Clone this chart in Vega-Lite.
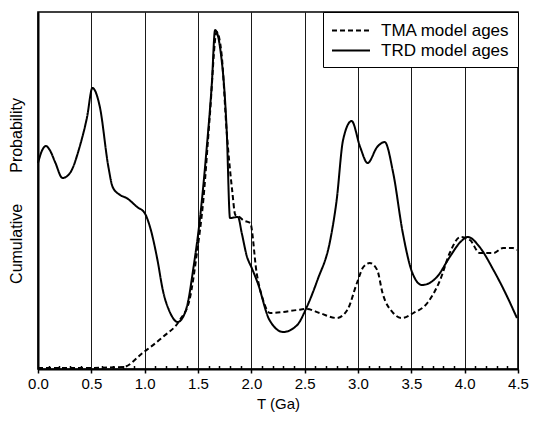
{
  "$schema": "https://vega.github.io/schema/vega-lite/v6.json",
  "width": 480,
  "height": 357,
  "autosize": {"type": "none"},
  "padding": {"left": 38, "top": 12, "right": 17, "bottom": 52},
  "background": "white",
  "config": {
    "view": {"stroke": "black", "strokeWidth": 1.6},
    "font": "Liberation Sans"
  },
  "data": {
    "values": [
      {"s": "TRD model ages", "T": 0.0, "p": 206}, {"s": "TRD model ages", "T": 0.04, "p": 219}, {"s": "TRD model ages", "T": 0.075, "p": 223}, {"s": "TRD model ages", "T": 0.11, "p": 219},
      {"s": "TRD model ages", "T": 0.16, "p": 207}, {"s": "TRD model ages", "T": 0.23, "p": 191}, {"s": "TRD model ages", "T": 0.3, "p": 196}, {"s": "TRD model ages", "T": 0.39, "p": 222},
      {"s": "TRD model ages", "T": 0.46, "p": 252}, {"s": "TRD model ages", "T": 0.51, "p": 281}, {"s": "TRD model ages", "T": 0.58, "p": 262}, {"s": "TRD model ages", "T": 0.66, "p": 202},
      {"s": "TRD model ages", "T": 0.7, "p": 182}, {"s": "TRD model ages", "T": 0.77, "p": 174}, {"s": "TRD model ages", "T": 0.83, "p": 171}, {"s": "TRD model ages", "T": 0.93, "p": 162},
      {"s": "TRD model ages", "T": 1.0, "p": 156}, {"s": "TRD model ages", "T": 1.05, "p": 142}, {"s": "TRD model ages", "T": 1.12, "p": 109}, {"s": "TRD model ages", "T": 1.17, "p": 79},
      {"s": "TRD model ages", "T": 1.24, "p": 56}, {"s": "TRD model ages", "T": 1.31, "p": 47}, {"s": "TRD model ages", "T": 1.36, "p": 52}, {"s": "TRD model ages", "T": 1.41, "p": 69},
      {"s": "TRD model ages", "T": 1.45, "p": 96}, {"s": "TRD model ages", "T": 1.52, "p": 152}, {"s": "TRD model ages", "T": 1.58, "p": 219}, {"s": "TRD model ages", "T": 1.63, "p": 286},
      {"s": "TRD model ages", "T": 1.66, "p": 339}, {"s": "TRD model ages", "T": 1.71, "p": 319}, {"s": "TRD model ages", "T": 1.77, "p": 236}, {"s": "TRD model ages", "T": 1.8, "p": 151},
      {"s": "TRD model ages", "T": 1.875, "p": 152}, {"s": "TRD model ages", "T": 1.91, "p": 136}, {"s": "TRD model ages", "T": 1.96, "p": 112}, {"s": "TRD model ages", "T": 2.0, "p": 102},
      {"s": "TRD model ages", "T": 2.06, "p": 86}, {"s": "TRD model ages", "T": 2.17, "p": 49}, {"s": "TRD model ages", "T": 2.3, "p": 37}, {"s": "TRD model ages", "T": 2.43, "p": 44},
      {"s": "TRD model ages", "T": 2.52, "p": 62}, {"s": "TRD model ages", "T": 2.62, "p": 89}, {"s": "TRD model ages", "T": 2.74, "p": 129}, {"s": "TRD model ages", "T": 2.8, "p": 169},
      {"s": "TRD model ages", "T": 2.86, "p": 229}, {"s": "TRD model ages", "T": 2.94, "p": 248}, {"s": "TRD model ages", "T": 3.02, "p": 222}, {"s": "TRD model ages", "T": 3.09, "p": 206},
      {"s": "TRD model ages", "T": 3.18, "p": 222}, {"s": "TRD model ages", "T": 3.25, "p": 227}, {"s": "TRD model ages", "T": 3.33, "p": 196}, {"s": "TRD model ages", "T": 3.42, "p": 136},
      {"s": "TRD model ages", "T": 3.51, "p": 96}, {"s": "TRD model ages", "T": 3.6, "p": 84}, {"s": "TRD model ages", "T": 3.74, "p": 92}, {"s": "TRD model ages", "T": 3.86, "p": 112},
      {"s": "TRD model ages", "T": 3.96, "p": 127}, {"s": "TRD model ages", "T": 4.03, "p": 132}, {"s": "TRD model ages", "T": 4.14, "p": 122}, {"s": "TRD model ages", "T": 4.27, "p": 99},
      {"s": "TRD model ages", "T": 4.4, "p": 72}, {"s": "TRD model ages", "T": 4.49, "p": 51},
      {"s": "TMA model ages", "T": 0.0, "p": 1}, {"s": "TMA model ages", "T": 0.4, "p": 1}, {"s": "TMA model ages", "T": 0.8, "p": 2}, {"s": "TMA model ages", "T": 0.98, "p": 16},
      {"s": "TMA model ages", "T": 1.17, "p": 32}, {"s": "TMA model ages", "T": 1.33, "p": 49}, {"s": "TMA model ages", "T": 1.42, "p": 69}, {"s": "TMA model ages", "T": 1.49, "p": 116},
      {"s": "TMA model ages", "T": 1.55, "p": 169}, {"s": "TMA model ages", "T": 1.61, "p": 252}, {"s": "TMA model ages", "T": 1.675, "p": 337}, {"s": "TMA model ages", "T": 1.72, "p": 316},
      {"s": "TMA model ages", "T": 1.77, "p": 236}, {"s": "TMA model ages", "T": 1.82, "p": 179}, {"s": "TMA model ages", "T": 1.85, "p": 154}, {"s": "TMA model ages", "T": 1.89, "p": 152},
      {"s": "TMA model ages", "T": 1.92, "p": 149}, {"s": "TMA model ages", "T": 1.99, "p": 146}, {"s": "TMA model ages", "T": 2.05, "p": 96}, {"s": "TMA model ages", "T": 2.11, "p": 69},
      {"s": "TMA model ages", "T": 2.175, "p": 56}, {"s": "TMA model ages", "T": 2.3, "p": 57}, {"s": "TMA model ages", "T": 2.43, "p": 59}, {"s": "TMA model ages", "T": 2.52, "p": 60},
      {"s": "TMA model ages", "T": 2.64, "p": 56}, {"s": "TMA model ages", "T": 2.8, "p": 51}, {"s": "TMA model ages", "T": 2.9, "p": 59}, {"s": "TMA model ages", "T": 2.99, "p": 86},
      {"s": "TMA model ages", "T": 3.05, "p": 102}, {"s": "TMA model ages", "T": 3.11, "p": 106}, {"s": "TMA model ages", "T": 3.18, "p": 99}, {"s": "TMA model ages", "T": 3.23, "p": 76},
      {"s": "TMA model ages", "T": 3.33, "p": 56}, {"s": "TMA model ages", "T": 3.41, "p": 51}, {"s": "TMA model ages", "T": 3.52, "p": 56}, {"s": "TMA model ages", "T": 3.65, "p": 66},
      {"s": "TMA model ages", "T": 3.77, "p": 89}, {"s": "TMA model ages", "T": 3.86, "p": 116}, {"s": "TMA model ages", "T": 3.96, "p": 132}, {"s": "TMA model ages", "T": 4.05, "p": 129},
      {"s": "TMA model ages", "T": 4.14, "p": 116}, {"s": "TMA model ages", "T": 4.27, "p": 116}, {"s": "TMA model ages", "T": 4.36, "p": 121}, {"s": "TMA model ages", "T": 4.45, "p": 121},
      {"s": "TMA model ages", "T": 4.49, "p": 119}
    ]
  },
  "mark": {"type": "line", "color": "black", "strokeWidth": 2, "interpolate": "monotone"},
  "encoding": {
    "x": {
      "field": "T", "type": "quantitative",
      "scale": {"domain": [0, 4.5], "nice": false, "zero": false},
      "axis": {
        "title": "T (Ga)",
        "values": [0,0.1,0.2,0.3,0.4,0.5,0.6,0.7,0.8,0.9,1,1.1,1.2,1.3,1.4,1.5,1.6,1.7,1.8,1.9,2,2.1,2.2,2.3,2.4,2.5,2.6,2.7,2.8,2.9,3,3.1,3.2,3.3,3.4,3.5,3.6,3.7,3.8,3.9,4,4.1,4.2,4.3,4.4,4.5],
        "labelExpr": "abs(datum.value*2 - round(datum.value*2)) < 0.01 ? format(datum.value, '.1f') : ''",
        "labelFontSize": 15,
        "labelColor": "black",
        "labelPadding": 3,
        "labelFlush": false,
        "labelOverlap": false,
        "titleFontSize": 15,
        "titleFontWeight": "normal",
        "titleColor": "black",
        "titlePadding": 5,
        "domainColor": "black",
        "domainWidth": 2,
        "tickColor": "black",
        "tickWidth": 1.5,
        "tickSize": {"condition": {"test": "abs(datum.value*2 - round(datum.value*2)) < 0.01", "value": 4}, "value": -3.5},
        "grid": true,
        "gridColor": "black",
        "gridWidth": 0.9,
        "gridOpacity": {"condition": {"test": "abs(datum.value*2 - round(datum.value*2)) < 0.01", "value": 1}, "value": 0}
      }
    },
    "y": {
      "field": "p", "type": "quantitative",
      "scale": {"domain": [0, 357], "nice": false},
      "axis": {
        "title": "Cumulative\u00a0\u00a0\u00a0\u00a0\u00a0\u00a0\u00a0Probability",
        "labels": false, "ticks": false, "grid": false,
        "domainColor": "black", "domainWidth": 2,
        "titleFontSize": 16, "titleFontWeight": "normal", "titleColor": "black",
        "titlePadding": 14
      }
    },
    "strokeDash": {
      "field": "s", "type": "nominal",
      "scale": {"domain": ["TMA model ages", "TRD model ages"], "range": [[5, 3], [1, 0]]},
      "legend": {
        "title": null,
        "orient": "top-right",
        "offset": 0,
        "padding": 8,
        "strokeColor": "black",
        "fillColor": "white",
        "symbolType": "M-1,0H3",
        "symbolSize": 361,
        "symbolStrokeWidth": 2,
        "symbolStrokeColor": "black",
        "labelFontSize": 17,
        "labelColor": "black",
        "labelOffset": 29,
        "rowPadding": 1
      }
    }
  }
}
